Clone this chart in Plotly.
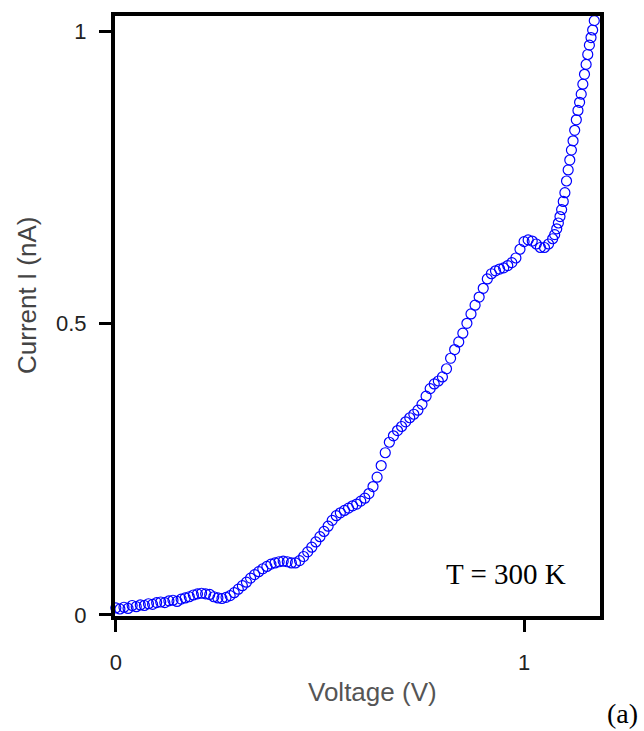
import plotly.graph_objects as go

voltage = [
    0.000, 0.010, 0.020, 0.030, 0.040, 0.050, 0.060, 0.070, 0.080, 0.090,
    0.100, 0.110, 0.120, 0.130, 0.140, 0.150, 0.160, 0.170, 0.180, 0.190,
    0.200, 0.210, 0.220, 0.230, 0.240, 0.250, 0.260, 0.270, 0.280, 0.290,
    0.300, 0.310, 0.320, 0.330, 0.340, 0.350, 0.360, 0.370, 0.380, 0.390,
    0.400, 0.410, 0.420, 0.430, 0.440, 0.450, 0.460, 0.470, 0.480, 0.490,
    0.500, 0.510, 0.520, 0.530, 0.540, 0.550, 0.560, 0.570, 0.580, 0.590,
    0.600, 0.610, 0.620, 0.630, 0.640, 0.650, 0.660, 0.670, 0.680, 0.690,
    0.700, 0.710, 0.720, 0.730, 0.740, 0.750, 0.760, 0.770, 0.780, 0.790,
    0.800, 0.810, 0.820, 0.830, 0.840, 0.850, 0.860, 0.870, 0.880, 0.890,
    0.900, 0.910, 0.920, 0.930, 0.940, 0.950, 0.960, 0.970, 0.980, 0.990,
    1.000, 1.010, 1.020, 1.030, 1.040, 1.050, 1.060, 1.070, 1.075,
    1.080, 1.084, 1.088, 1.092, 1.096, 1.100, 1.104, 1.108, 1.112, 1.116,
    1.120, 1.124, 1.128, 1.132, 1.136, 1.140, 1.144, 1.148, 1.152, 1.156,
    1.160, 1.164, 1.168, 1.172, 1.176,
]
current = [
    0.012, 0.010, 0.013, 0.011, 0.016, 0.014, 0.017, 0.016, 0.019, 0.018,
    0.021, 0.022, 0.021, 0.024, 0.025, 0.023, 0.027, 0.029, 0.031, 0.034,
    0.036, 0.037, 0.036, 0.035, 0.031, 0.029, 0.028, 0.030, 0.033, 0.038,
    0.044, 0.050, 0.056, 0.063, 0.069, 0.074, 0.079, 0.083, 0.087, 0.089,
    0.091, 0.092, 0.091, 0.089, 0.089, 0.093, 0.100, 0.108, 0.116, 0.125,
    0.134, 0.143, 0.152, 0.162, 0.170, 0.175, 0.179, 0.183, 0.187, 0.190,
    0.195, 0.200, 0.208, 0.220, 0.236, 0.256, 0.278, 0.296, 0.307, 0.316,
    0.323, 0.331, 0.338, 0.344, 0.351, 0.361, 0.375, 0.388, 0.396, 0.401,
    0.408, 0.422, 0.440, 0.455, 0.468, 0.483, 0.500, 0.516, 0.531, 0.545,
    0.560, 0.576, 0.585, 0.590, 0.593, 0.595, 0.599, 0.604, 0.612, 0.627,
    0.640, 0.643, 0.641, 0.636, 0.630, 0.630, 0.636, 0.645, 0.652,
    0.662, 0.672, 0.683, 0.695, 0.709, 0.724, 0.744, 0.763, 0.780, 0.797,
    0.813, 0.831, 0.849, 0.865, 0.879, 0.893, 0.910, 0.927, 0.944, 0.961,
    0.977, 0.990, 1.003, 1.019, 1.034,
]

x_ticks = [0, 1]
x_ticklabels = ["0", "1"]
y_ticks = [0, 0.5, 1]
y_ticklabels = ["0", "0.5", "1"]

W, H = 644, 731
L, R, T, B = 115, 44, 16, 115
pw, ph = W - L - R, H - T - B

def px(xp):
    return (xp - L) / pw

def py(yp):
    return (H - B - yp) / ph

fig = go.Figure()
fig.add_trace(go.Scatter(
    x=voltage, y=current, mode="markers",
    marker=dict(symbol="circle-open", size=10, color="#0000ff", line=dict(width=1.2)),
    cliponaxis=False, showlegend=False,
))

axis_common = dict(
    showline=True, linecolor="black", linewidth=4, mirror=True,
    showgrid=False, zeroline=False,
    ticks="outside", ticklen=12, tickwidth=3, tickcolor="black",
    tickfont=dict(family="Liberation Sans, Arial", size=22, color="#222222"),
)

fig.update_xaxes(range=[-0.002, 1.186], tickvals=x_ticks, ticktext=x_ticklabels,
                 ticklabelstandoff=12, **axis_common)
fig.update_yaxes(range=[-0.002, 1.027], tickvals=y_ticks, ticktext=y_ticklabels,
                 ticklabelstandoff=8, **axis_common)

fig.add_annotation(text="Current I (nA)", textangle=-90, x=px(27), y=py(295),
                   xref="paper", yref="paper", showarrow=False,
                   xanchor="center", yanchor="middle",
                   font=dict(family="Liberation Sans, Arial", size=26, color="#444444"))
fig.add_annotation(text="Voltage (V)", x=px(372), y=py(692),
                   xref="paper", yref="paper", showarrow=False,
                   xanchor="center", yanchor="middle",
                   font=dict(family="Liberation Sans, Arial", size=26, color="#555555"))
fig.add_annotation(text="T = 300 K", x=px(506), y=py(574),
                   xref="paper", yref="paper", showarrow=False,
                   xanchor="center", yanchor="middle",
                   font=dict(family="Liberation Serif, Times New Roman", size=29, color="black"))
fig.add_annotation(text="(a)", x=px(622), y=py(713),
                   xref="paper", yref="paper", showarrow=False,
                   xanchor="center", yanchor="middle",
                   font=dict(family="Liberation Serif, Times New Roman", size=28, color="black"))

fig.update_layout(
    width=W, height=H,
    margin=dict(l=L, r=R, t=T, b=B, pad=0),
    paper_bgcolor="white", plot_bgcolor="white",
)

fig.write_html("out.html")
